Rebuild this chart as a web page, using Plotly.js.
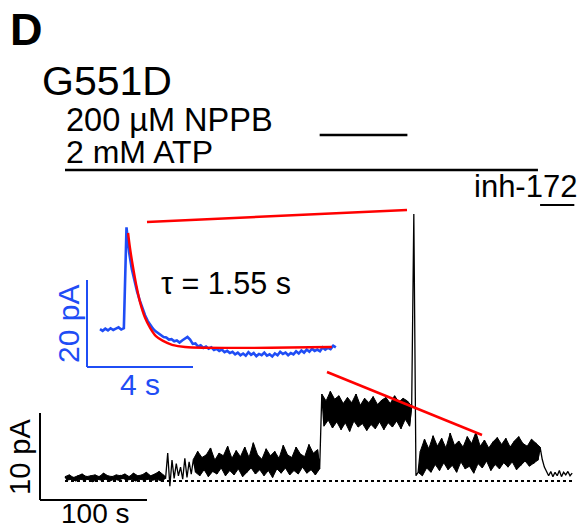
<!DOCTYPE html>
<html>
<head>
<meta charset="utf-8">
<script src="https://cdn.plot.ly/plotly-3.0.1.min.js"></script>
<style>html,body{margin:0;padding:0;background:#fff}</style>
</head>
<body>
<div id="chart" style="width:580px;height:529px"></div>
<script>
// ---------- DATA (main trace, time step 2 s, current in pA) ----------
const stepS = 2;
const baseStart = 0;
const baseI = [0.5,0.1,0.7,0.2,0.4,0.0,0.6,0.2,0.8,0.1,
               0.5,0.2,0.6,-0.1,0.7,0.2,0.5,0.1,0.9,0.2,
               0.6,0.0,0.5,0.2,0.7,0.1,0.6,0.3,0.8,0.1,
               0.5,0.2,0.9,0.0,0.6,0.2,0.7,0.1,1.0,0.2,
               0.6,0.1,0.8,0.2,1.1,0.0,0.7,0.3];
const onsetStart = 96;
const onsetI = [3.2,-0.6,2.4,0.3,2.0,0.6,1.6,0.2,2.6,0.4,2.2,0.8];
const atpStart = 120;
const atpI = [2.5,1.0,3.4,0.6,2.7,1.3,3.0,0.5,3.8,1.1,
              2.4,0.8,3.2,1.5,2.9,0.6,4.0,1.2,2.6,0.7,
              3.5,1.4,2.8,0.5,3.9,1.0,2.7,1.5,4.4,0.8,
              3.0,1.3,2.5,0.6,3.7,1.2,2.9,0.4,3.4,1.4,
              2.6,0.9,4.1,1.5,3.0,0.7,2.7,1.2,3.9,0.8,
              3.1,1.6,2.8,0.9,4.2,1.3,3.2,0.7,3.6,1.4];
const nppbStart = 240;
const nppbI = [10.0,6.3,9.2,7.0,10.3,6.1,9.4,6.8,9.8,5.9,
               8.9,6.7,9.6,5.7,9.0,6.9,10.0,6.2,8.7,6.6,
               9.5,5.8,9.0,6.5,9.7,6.0,8.8,6.8,9.3,5.9,
               9.6,6.7,8.9,6.2,9.8,6.9,9.1,6.0,9.5,7.1,
               9.2,6.3,8.6];
const spikeStart = 326;
const spikeI = [30.7, 0.6];
const washStart = 330;
const washI = [1.0,3.4,0.6,4.8,1.5,3.7,1.0,5.2,1.9,4.0,
               1.2,4.9,2.1,3.8,1.3,5.5,1.8,4.1,1.0,4.6,
               2.2,3.9,1.4,5.1,1.7,4.3,0.9,5.6,2.0,4.0,
               1.5,4.7,2.3,3.8,1.2,4.5,1.9,5.0,1.4,4.2,
               2.1,4.9,1.6,3.9,2.2,4.6,1.3,5.1,1.8,4.3,
               2.3,4.0,1.7,4.8,2.0,4.4,2.4,3.9];
const inhStart = 446;
const inhI = [2.5,1.6,1.1,0.6,1.1,0.5,1.0,0.6,1.2,0.5,1.0,0.7,1.1,0.6,0.9];
const recordEnd = 475;

// application periods (s)
const nppbPeriod = [238, 320];
const atpPeriod = [0, 442];
const inhPeriod = [444, 476];

// ---------- DATA (inset, time step 0.1 s) ----------
const insetStep = 0.1;
const insetI = [0.2,-0.2,0.3,-0.1,0.4,0.0,0.3,0.6,0.1,0.4,
                23.6,17.8,14.0,11.2,8.8,6.8,4.9,3.4,2.1,1.1,
                0.3,-0.3,-0.8,-1.1,-1.6,-1.7,-2.2,-2.1,-2.6,-2.4,
                -2.9,-2.4,-1.9,-1.6,-2.2,-3.2,-3.1,-3.8,-3.5,-4.1,
                -3.8,-4.3,-4.0,-4.6,-4.3,-4.8,-4.5,-5.1,-4.8,-5.3,
                -5.0,-5.6,-5.2,-5.8,-5.4,-5.9,-5.1,-5.7,-5.3,-6.0,
                -5.5,-5.8,-5.2,-5.9,-5.6,-6.1,-5.4,-5.8,-5.0,-5.5,
                -5.2,-5.8,-5.3,-5.6,-4.9,-5.4,-4.7,-5.2,-4.5,-5.0,
                -4.3,-4.8,-4.5,-4.9,-4.0,-4.5,-4.1,-4.4,-3.6,-4.0];
// exponential fit points
const fitT = [1.06,1.13,1.25,1.36,1.51,1.70,1.89,2.11,2.38,2.72,3.21,8.75];
const fitI = [22.3,18.9,14.3,10.6,6.4,2.8,0.5,-1.4,-2.5,-3.4,-3.9,-3.9];

// ---------- build ----------
const segments = [[baseStart,baseI],[onsetStart,onsetI],[atpStart,atpI],[nppbStart,nppbI],
                  [spikeStart,spikeI],[washStart,washI],[inhStart,inhI]];
function seg(start, arr){ return arr.map((v,i)=>start + i*stepS); }
const mainT = [].concat(...segments.map(s=>seg(s[0], s[1])));
const mainI = [].concat(...segments.map(s=>s[1]));
const insetT = insetI.map((v,i)=>i*insetStep);

// noise envelope polygon per segment (local maxima on top, local minima below)
function bandTrace(start, arr){
  const t = seg(start, arr);
  const up = [], lo = [];
  for (let i=0;i<arr.length;i++){
    const a = i>0 ? arr[i-1] : arr[i], b = i<arr.length-1 ? arr[i+1] : arr[i];
    if (arr[i] >= a && arr[i] >= b) up.push([t[i], arr[i]]);
    if (arr[i] <= a && arr[i] <= b) lo.push([t[i], arr[i]]);
  }
  const pts = up.concat(lo.reverse());
  return {x:pts.map(p=>p[0]), y:pts.map(p=>p[1]), xaxis:'x', yaxis:'y', mode:'lines',
          fill:'toself', fillcolor:'#000', line:{color:'#000', width:1}, hoverinfo:'skip'};
}

const W = 580, H = 529;
// pixel geometry of the main panel (px per s, px per pA)
const X0 = 65, SX = 1.07, Y0 = 481, SY = 8.7;
// inset geometry
const IX0 = 100, ISX = 26.5, IY0 = 330, ISY = 4.35;

const blue = '#1f4df5';
const red = '#ff0000';
const FONT = 'Arial, "Liberation Sans", sans-serif';

function px(x){ return x / W; }
function py(y){ return 1 - y / H; }
function ann(text, x, y, size, opts){
  return Object.assign({text:text, x:px(x), y:py(y), xref:'paper', yref:'paper', showarrow:false,
    xanchor:'left', yanchor:'middle', font:{family:FONT, size:size, color:'#000'}}, opts||{});
}

const traces = [
  {x:[0, recordEnd], y:[0,0], xaxis:'x', yaxis:'y', mode:'lines',
   line:{color:'#000', width:2, dash:'dot'}, hoverinfo:'skip'},
  bandTrace(baseStart, baseI),
  bandTrace(atpStart, atpI),
  bandTrace(nppbStart, nppbI),
  bandTrace(washStart, washI),
  {x:mainT, y:mainI, xaxis:'x', yaxis:'y', mode:'lines',
   line:{color:'#000', width:1.3}, hoverinfo:'skip'},
  {x:insetT, y:insetI, xaxis:'x2', yaxis:'y2', mode:'lines',
   line:{color:blue, width:2.6}, hoverinfo:'skip'},
  {x:fitT, y:fitI, xaxis:'x2', yaxis:'y2', mode:'lines',
   line:{color:red, width:2.4, shape:'spline'}, hoverinfo:'skip'}
];

const tAt = p => (p - X0) / SX;      // pixel -> s
const iAt = p => (Y0 - p) / SY;      // pixel -> pA
const itAt = p => (p - IX0) / ISX;
const iiAt = p => (IY0 - p) / ISY;

const shapes = [
  // stimulus bars
  {type:'line', xref:'x', yref:'y', x0:nppbPeriod[0], x1:nppbPeriod[1], y0:iAt(135), y1:iAt(135), line:{color:'#000', width:2.5}},
  {type:'line', xref:'x', yref:'y', x0:atpPeriod[0], x1:atpPeriod[1], y0:iAt(170), y1:iAt(170), line:{color:'#000', width:2.5}},
  {type:'line', xref:'x', yref:'y', x0:inhPeriod[0], x1:inhPeriod[1], y0:iAt(205), y1:iAt(205), line:{color:'#000', width:2}},
  // main scale bars: 100 s, 10 pA
  {type:'line', xref:'x', yref:'y', x0:tAt(40), x1:tAt(40)+100, y0:iAt(500), y1:iAt(500), line:{color:'#000', width:2}},
  {type:'line', xref:'x', yref:'y', x0:tAt(40), x1:tAt(40), y0:iAt(500), y1:iAt(500)+10, line:{color:'#000', width:2}},
  // inset scale bars: 4 s, 20 pA
  {type:'line', xref:'x2', yref:'y2', x0:itAt(87), x1:itAt(87)+4, y0:iiAt(367), y1:iiAt(367), line:{color:blue, width:2}},
  {type:'line', xref:'x2', yref:'y2', x0:itAt(87), x1:itAt(87), y0:iiAt(367), y1:iiAt(367)+20, line:{color:blue, width:2}},
  // zoom connector lines
  {type:'line', xref:'paper', yref:'paper', x0:px(147), y0:py(222), x1:px(407), y1:py(210), line:{color:red, width:2.5}},
  {type:'line', xref:'paper', yref:'paper', x0:px(327), y0:py(372), x1:px(482), y1:py(435), line:{color:red, width:2.5}}
];

const annotations = [
  ann('<b>D</b>', 8, 30, 45),
  ann('G551D', 40, 81, 41),
  ann('200 µM NPPB', 64, 120, 32.5),
  ann('2 mM ATP', 64, 152, 32),
  ann('inh-172', 579, 186, 31, {xanchor:'right'}),
  ann('τ = 1.55 s', 159, 283, 30.5),
  ann('4 s', 140, 384, 30, {xanchor:'center', font:{family:FONT, size:30, color:blue}}),
  ann('20 pA', 68, 324, 30, {xanchor:'center', textangle:-90, font:{family:FONT, size:30, color:blue}}),
  ann('10 pA', 20, 457, 29, {xanchor:'center', textangle:-90}),
  ann('100 s', 95, 513, 28, {xanchor:'center'})
];

const hidden = {visible:false, showgrid:false, zeroline:false, fixedrange:true};
const layout = {
  width:W, height:H, margin:{l:0,r:0,t:0,b:0},
  paper_bgcolor:'#fff', plot_bgcolor:'#fff', showlegend:false,
  xaxis: Object.assign({}, hidden, {domain:[0,1], range:[tAt(0), tAt(W)]}),
  yaxis: Object.assign({}, hidden, {domain:[0,1], range:[iAt(H), iAt(0)]}),
  xaxis2: Object.assign({}, hidden, {domain:[0,1], overlaying:'x', anchor:'y2', range:[itAt(0), itAt(W)]}),
  yaxis2: Object.assign({}, hidden, {domain:[0,1], overlaying:'y', anchor:'x2', range:[iiAt(H), iiAt(0)]}),
  shapes: shapes,
  annotations: annotations
};

Plotly.newPlot('chart', traces, layout, {staticPlot:true, displayModeBar:false});
</script>
</body>
</html>
